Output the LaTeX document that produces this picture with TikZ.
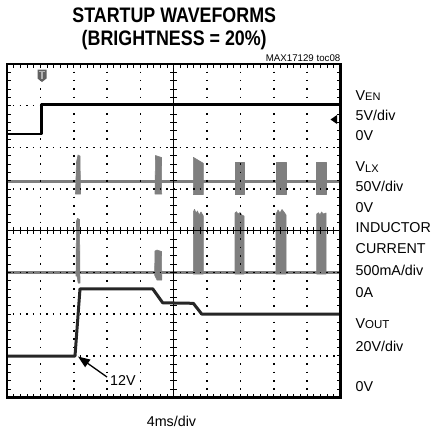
\documentclass[tikz,border=0pt]{standalone}
\usepackage{fontspec}
\setmainfont{Liberation Sans}
\newfontfamily\titlefont[FakeStretch=0.85]{Liberation Sans}
\usetikzlibrary{arrows.meta}
\definecolor{gtr}{HTML}{7F7F7F}
\definecolor{dtr}{HTML}{262626}
\begin{document}
\begin{tikzpicture}[x=1pt,y=-1pt,
  lbl/.style={anchor=base west,inner sep=0pt,font=\fontsize{14.3}{16}\selectfont},
  ttl/.style={anchor=base,inner sep=0pt,font=\titlefont\bfseries\fontsize{21}{24}\selectfont},
  hdot/.style={line width=1.6pt,dash pattern=on 1.6pt off 5.07pt},
  vdot/.style={line width=1.6pt,dash pattern=on 1.6pt off 6.7375pt},
  tick/.style={line width=0.9pt},
  axis/.style={line width=1.2pt},
  gtrace/.style={gtr,line width=2.8pt},
  gpulse/.style={fill=gtr,draw=gtr,line width=0.6pt,line join=round},
  ventr/.style={black,line width=2.5pt,line join=round},
  vouttr/.style={dtr,line width=3pt,line join=round},
  arr/.style={-{Triangle[length=12pt,width=9pt]},line width=1.3pt},
  frame/.style={line width=2.2pt}]
\useasboundingbox (0,0) rectangle (435,432);

% ---------- gray traces ----------
% V_LX
\draw[gtrace] (7,181.7) -- (340.5,181.7);
\fill[gpulse] (75.5,194) -- (76.5,162) -- (78,155) -- (80,156) -- (80.5,194) -- cycle;
\fill[gpulse] (155,194) -- (155.5,155.5) -- (161.5,157.5) -- (161.7,194) -- cycle;
\fill[gpulse] (193.3,194.5) -- (193.3,157.3) -- (203.3,163.3) -- (203.3,194.5) -- cycle;
\fill[gpulse] (235,194.5) -- (235,162.7) -- (244,162.7) -- (244,194.5) -- cycle;
\fill[gpulse] (276,194.5) -- (276,162.7) -- (286,162.7) -- (286,194.5) -- cycle;
\fill[gpulse] (316.7,194.5) -- (316.7,162.7) -- (326,162.7) -- (326,194.5) -- cycle;
% inductor current
\draw[gtrace] (7,272.3) -- (340.5,272.3);
\fill[gpulse] (76,276) -- (76.5,221) -- (77.5,218.3) -- (79.5,219.5) -- (80,283) -- (78.2,283) -- (77,276) -- cycle;
\fill[gpulse] (154.6,275) -- (155,251) -- (157,250) -- (161.5,251.5) -- (161.8,280) -- (157,280) -- cycle;
\fill[gpulse] (193.3,274) -- (193.3,212) -- (194.5,209.3) -- (196,213) -- (197.5,211) -- (199,215) -- (201,212) -- (203.3,216) -- (203.3,274) -- cycle;
\fill[gpulse] (235,274) -- (235,213) -- (236.5,211.7) -- (238,214) -- (240,212.5) -- (242,215) -- (244,216) -- (244,274) -- cycle;
\fill[gpulse] (276,274) -- (276,214) -- (278,210) -- (280,213) -- (282,209.5) -- (284,212) -- (286,215) -- (286,274) -- cycle;
\fill[gpulse] (316.7,274) -- (316.7,214) -- (318.5,212.7) -- (320,215) -- (321.5,212) -- (323.5,214) -- (326,213) -- (326,274) -- cycle;

% ---------- grid ----------
\foreach \k in {1,2,3,5,6,7}
  \draw[hdot] (6.2,64+\k*41.6875) -- (341.3,64+\k*41.6875);
\foreach \i in {1,2,3,4,6,7,8,9}
  \draw[vdot] (7+\i*33.35,63.2) -- (7+\i*33.35,398.3);
% centre axes with ticks
\draw[axis] (7,230.84) -- (340.5,230.84);
\draw[axis] (173.75,64) -- (173.75,397.5);
\foreach \i in {1,...,49} {
  \draw[tick] (7+\i*6.67,227.4) -- (7+\i*6.67,234.3);
  \draw[tick] (7+\i*6.67,64) -- (7+\i*6.67,67.8);
  \draw[tick] (7+\i*6.67,397.5) -- (7+\i*6.67,393.7);
}
\foreach \j in {1,...,39} {
  \draw[tick] (170.3,64+\j*8.3375) -- (177.2,64+\j*8.3375);
  \draw[tick] (7,64+\j*8.3375) -- (10.8,64+\j*8.3375);
  \draw[tick] (340.5,64+\j*8.3375) -- (336.7,64+\j*8.3375);
}

% ---------- black traces ----------
\draw[ventr] (7,134) -- (41.5,134) -- (41.5,104.7) -- (340.5,104.7);
\draw[vouttr] (7,356) -- (75,356) -- (80,288.8) -- (152.7,288.8) -- (162.7,302.8)
  -- (193.3,303.3) -- (201.7,314) -- (340.5,314);

% ---------- frame and markers ----------
\draw[frame] (7,64) rectangle (340.5,397.5);
\fill[black!62] (37.5,69.5) -- (46.5,69.5) -- (46.5,78.5) -- (42,82) -- (37.5,78.5) -- cycle;
\draw[white!70!black,line width=1.1pt] (39.3,71.6) -- (44.7,71.6) (42,71.6) -- (42,79);
\fill[black] (330.5,119.5) -- (337,115) -- (337,124) -- cycle;

% ---------- texts ----------
\node[ttl] (t1) at (174.2,22.7) {STARTUP WAVEFORMS};
\node[ttl] (t2) at (174.2,45) {(BRIGHTNESS = 20\%)};
\node[anchor=base east,inner sep=0pt,font=\fontsize{9.7}{11}\selectfont] (toc) at (340.5,61.5) {MAX17129 toc08};

\node[lbl] (ven) at (355.5,100) {V\raisebox{-0.8pt}{\fontsize{11}{12}\selectfont EN}};
\node[lbl] (ven2) at (355.5,120.7) {5V/div};
\node[lbl] (ven3) at (355.5,140.7) {0V};
\node[lbl] (vlx) at (355.5,171.5) {V\raisebox{-0.8pt}{\fontsize{11}{12}\selectfont LX}};
\node[lbl] (vlx2) at (355.5,191.5) {50V/div};
\node[lbl] (vlx3) at (355.5,212.5) {0V};
\node[lbl] (il) at (355.5,232.5) {INDUCTOR};
\node[lbl] (il2) at (355.5,253.5) {CURRENT};
\node[lbl] (il3) at (355.5,275.5) {500mA/div};
\node[lbl] (il4) at (355.5,297.5) {0A};
\node[lbl] (vo) at (355.5,328) {V{\fontsize{11.5}{12}\selectfont OUT}};
\node[lbl] (vo2) at (355.5,351.5) {20V/div};
\node[lbl] (vo3) at (355.5,391.5) {0V};

\node[lbl,anchor=base] (tdiv) at (171.5,426.5) {4ms/div};
\node[lbl] (v12) at (110,385) {12V};
\coordinate (v12tail) at (107,377);
\coordinate (v12tip) at (78,356.5);
\draw[arr] (v12tail) -- (v12tip);
\end{tikzpicture}
\end{document}
